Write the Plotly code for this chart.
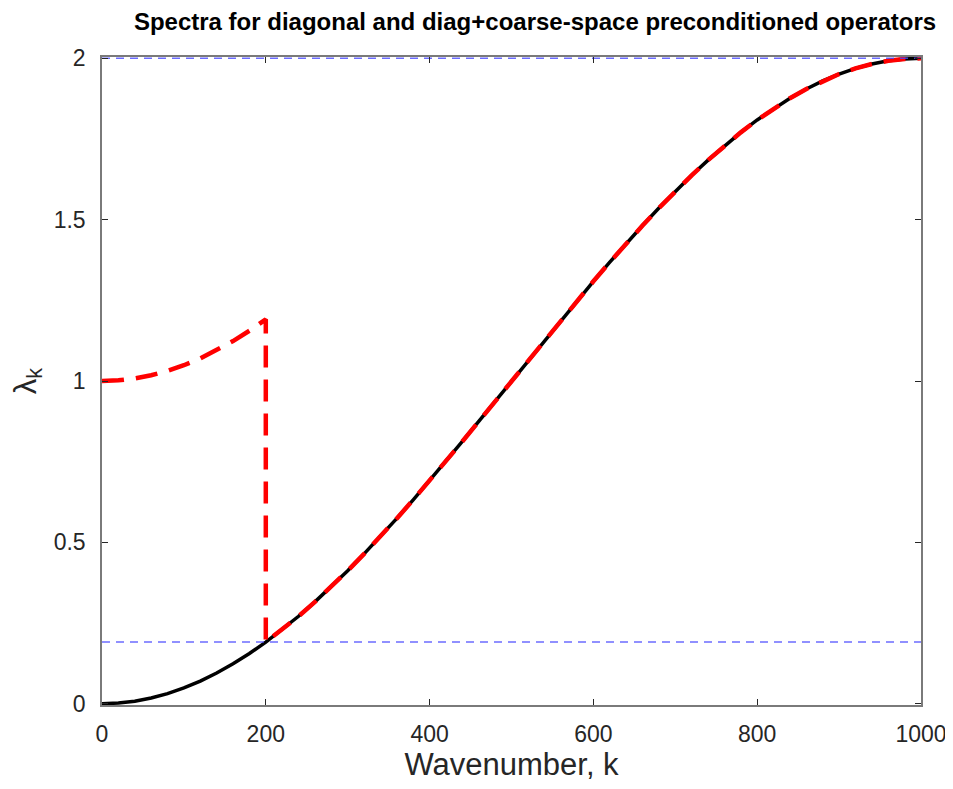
import plotly.graph_objects as go

# Wavenumbers sampled along the curve
k = [0, 20, 40, 60, 80, 100, 120, 140, 160, 180, 200, 220, 240, 260, 280, 300,
     320, 340, 360, 380, 400, 420, 440, 460, 480, 500, 520, 540, 560, 580, 600,
     620, 640, 660, 680, 700, 720, 740, 760, 780, 800, 820, 840, 860, 880, 900,
     920, 940, 960, 980, 1000]

# Diagonal-preconditioned spectrum (black solid)
lam_diag = [0.0, 0.002, 0.0079, 0.0177, 0.0314, 0.0489, 0.0702, 0.0952, 0.1237,
            0.1557, 0.191, 0.2295, 0.271, 0.3155, 0.3626, 0.4122, 0.4642, 0.5183,
            0.5742, 0.6319, 0.691, 0.7513, 0.8126, 0.8747, 0.9372, 1.0, 1.0628,
            1.1253, 1.1874, 1.2487, 1.309, 1.3681, 1.4258, 1.4817, 1.5358, 1.5878,
            1.6374, 1.6845, 1.729, 1.7705, 1.809, 1.8443, 1.8763, 1.9048, 1.9298,
            1.9511, 1.9686, 1.9823, 1.9921, 1.998, 2.0]

# Diag + coarse-space spectrum (red dashed): shifted branch for k <= 200
k_coarse_low = [0, 20, 40, 60, 80, 100, 120, 140, 160, 180, 200]
lam_coarse_low = [1.0, 1.002, 1.0079, 1.0177, 1.0314, 1.0489, 1.0702, 1.0952,
                  1.1237, 1.1557, 1.191]
# then it drops back onto the diagonal spectrum from k = 200 upward
k_coarse_high = k[10:]
lam_coarse_high = lam_diag[10:]

# Reference levels (blue dashed)
ref_levels = [2.0, 0.191]

x_ticks = [0, 200, 400, 600, 800, 1000]
y_ticks = [0, 0.5, 1, 1.5, 2]
y_ticklabels = ["0", "0.5", "1", "1.5", "2"]

fig = go.Figure()

fig.add_trace(go.Scatter(x=k, y=lam_diag, mode="lines",
                         line=dict(color="black", width=3.5),
                         showlegend=False, hoverinfo="skip"))

fig.add_trace(go.Scatter(x=k_coarse_low + k_coarse_high,
                         y=lam_coarse_low + lam_coarse_high,
                         mode="lines",
                         line=dict(color="#ff0000", width=4.5, dash="22px,12px"),
                         showlegend=False, hoverinfo="skip"))

for lv in ref_levels:
    fig.add_trace(go.Scatter(x=[x_ticks[0], x_ticks[-1]], y=[lv, lv], mode="lines",
                             line=dict(color="rgba(70,70,255,0.8)", width=1.5,
                                       dash="8px,6px"),
                             showlegend=False, hoverinfo="skip"))

axis_common = dict(showgrid=False, zeroline=False, showline=True, mirror="ticks",
                   linecolor="#7a7a7a", linewidth=1.5, ticks="inside", ticklen=6,
                   tickcolor="#262626", tickwidth=1, automargin=False,
                   tickfont=dict(family="Liberation Sans, Arial, sans-serif",
                                 size=23, color="#262626"))

fig.update_xaxes(range=[0, 1000], tickvals=x_ticks, ticklabelstandoff=8,
                 title=dict(text="Wavenumber, k", standoff=6,
                            font=dict(family="Liberation Sans, Arial, sans-serif",
                                      size=31, color="#262626")),
                 **axis_common)
fig.update_yaxes(range=[-0.004, 2.004], tickvals=y_ticks, ticktext=y_ticklabels,
                 ticklabelstandoff=10,
                 title=dict(text="λ<sub>k</sub>", standoff=14,
                            font=dict(family="Liberation Sans, Arial, sans-serif",
                                      size=31, color="#262626")),
                 **axis_common)

fig.update_layout(
    width=945, height=781,
    margin=dict(l=94, r=32, t=49, b=84),
    paper_bgcolor="white", plot_bgcolor="white",
    title=dict(text="<b>Spectra for diagonal and diag+coarse-space preconditioned operators</b>",
               x=527 / 945, xanchor="center", xref="container",
               y=1 - 14 / 781, yanchor="middle", yref="container",
               font=dict(family="Liberation Sans, Arial, sans-serif", size=24,
                         color="black"),
               automargin=False),
)

fig.write_html("out.html")
